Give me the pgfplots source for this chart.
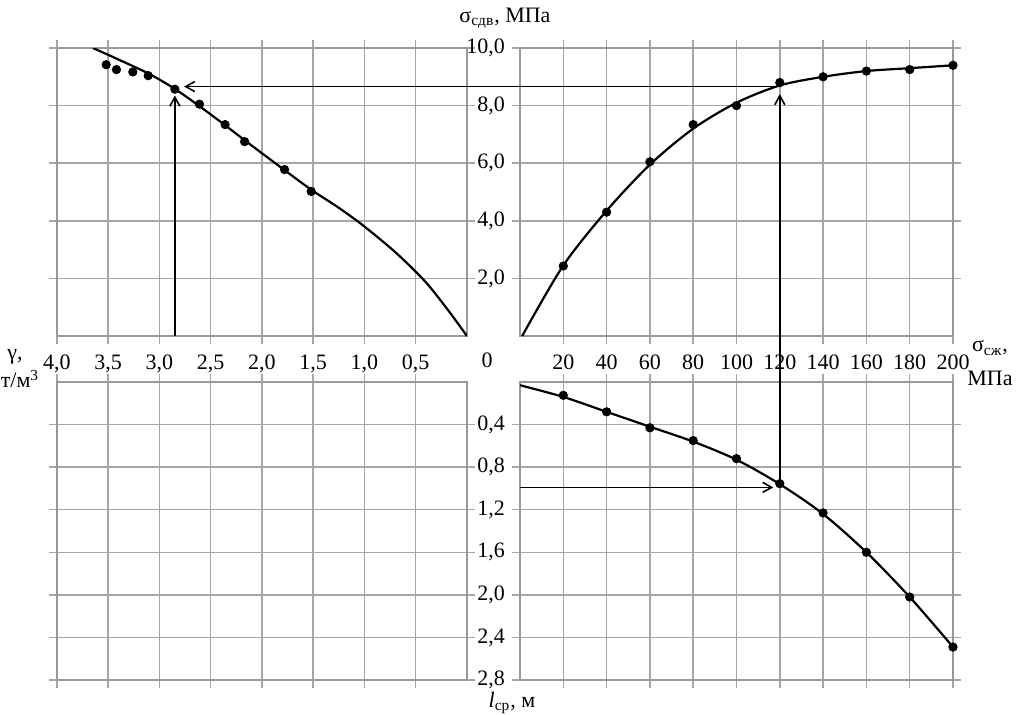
\documentclass[border=0pt]{standalone}
\usepackage{fontspec}
\setmainfont{Liberation Serif}
\usepackage{pgfplots}
\pgfplotsset{compat=1.18}
\usetikzlibrary{arrows.meta}
\pgfplotsset{
  base/.style={
    scale only axis, anchor=south west,
    axis line style={gray!80, line width=0.75pt},
    grid=major, grid style={gray!70, line width=0.75pt},
    tick align=outside, tick pos=both, major tick length=4pt,
    tick style={gray!70, line width=0.75pt},
    ticklabel style={font=\fontsize{11}{13}\selectfont},
    xticklabel shift=2pt,
    /pgf/number format/assume math mode=true,
  },
  numfmt/.style={/pgf/number format/.cd, use comma, fixed, fixed zerofill, precision=1},
  curve/.style={black, line width=1.1pt, smooth, no marks},
  pts/.style={only marks, mark=*, mark size=2.1pt, black},
}
\tikzset{arr/.style={black, line width=0.8pt, -{Straight Barb[length=4.5pt,width=5pt]}}}
\begin{document}
\begin{tikzpicture}
\useasboundingbox (0,0) rectangle (514pt,-357pt);
% top left: gamma vs sigma_sdv
\begin{axis}[base, at={(28.5pt,-168pt)}, width=205pt, height=144pt,
  xmin=0, xmax=4, x dir=reverse, ymin=0, ymax=10,
  xtick={0.5,1,1.5,2,2.5,3,3.5,4}, ytick={2,4,6,8,10}, yticklabels={},
  xticklabel style={numfmt}]
\addplot[curve] coordinates {(0,0) (0.2,0.97) (0.41,1.9) (0.69,2.88) (1.0,3.8) (1.25,4.45) (1.52,5.08) (1.78,5.76) (2.17,6.8) (2.36,7.32) (2.61,7.98) (2.85,8.58) (3.1,9.1) (3.4,9.6) (3.65,10.0)};
\addplot[pts] coordinates {(3.52,9.42) (3.42,9.25) (3.26,9.17) (3.11,9.04) (2.85,8.57) (2.61,8.05) (2.36,7.34) (2.17,6.75) (1.78,5.78) (1.52,5.02)};
\draw[arr] (axis cs:2.85,0) -- (axis cs:2.85,8.35);
\coordinate (TLend) at (axis cs:2.76,8.66);
\end{axis}
% top right: sigma_szh vs sigma_sdv
\begin{axis}[base, at={(260pt,-168pt)}, width=216.5pt, height=144pt,
  xmin=0, xmax=200, ymin=0, ymax=10,
  xtick={20,40,...,200}, ytick={2,4,6,8,10},
  yticklabel style={numfmt}]
\addplot[curve] coordinates {(1,0) (20,2.45) (40,4.35) (60,5.95) (80,7.2) (100,8.1) (120,8.7) (140,9.0) (160,9.2) (180,9.3) (200,9.4)};
\addplot[pts] coordinates {(20,2.43) (40,4.3) (60,6.05) (80,7.34) (100,8.0) (120,8.8) (140,9.0) (160,9.2) (180,9.25) (200,9.4)};
\coordinate (TRtip) at (axis cs:120,8.4);
\coordinate (TRh) at (axis cs:120,8.66);
\end{axis}
% bottom left: empty grid
\begin{axis}[base, at={(28.5pt,-340pt)}, width=205pt, height=149pt,
  xmin=0, xmax=4, x dir=reverse, ymin=0, ymax=2.8, y dir=reverse,
  xtick={0.5,1,1.5,2,2.5,3,3.5,4}, ytick={0.4,0.8,1.2,1.6,2.0,2.4,2.8},
  xticklabel=\empty, yticklabel=\empty]
\addplot[draw=none] coordinates {(0.5,0.5) (3.5,2.5)};
\end{axis}
% bottom right: sigma_szh vs l_sr
\begin{axis}[base, at={(260pt,-340pt)}, width=216.5pt, height=149pt,
  xmin=0, xmax=200, ymin=0, ymax=2.8, y dir=reverse,
  xtick={20,40,...,200}, ytick={0.4,0.8,1.2,1.6,2.0,2.4,2.8},
  xticklabels={}, yticklabel style={numfmt}]
\addplot[curve] coordinates {(0,0.03) (20,0.14) (40,0.28) (60,0.42) (80,0.56) (100,0.73) (120,0.96) (140,1.24) (160,1.6) (180,2.02) (200,2.49)};
\addplot[pts] coordinates {(20,0.125) (40,0.28) (60,0.43) (80,0.55) (100,0.72) (120,0.955) (140,1.23) (160,1.6) (180,2.02) (200,2.49)};
\draw[arr] (axis cs:0,0.99) -- (axis cs:117,0.99);
\coordinate (BRpt) at (axis cs:120,0.955);
\end{axis}
\draw[arr] (BRpt) -- (TRtip);
\draw[arr] (TRh) -- (TLend);
\begin{scope}[every node/.style={font=\fontsize{11}{13}\selectfont, inner sep=0pt}]
\node at (252.5pt,-9pt) {σ\textsubscript{сдв}, МПа};
\node at (243.5pt,-180pt) {0};
\node at (7.5pt,-178.5pt) {γ,};
\node at (10pt,-189.5pt) {т/м\textsuperscript{3}};
\node at (495pt,-174pt) {σ\textsubscript{сж},};
\node at (495pt,-189pt) {МПа};
\node at (256pt,-351.5pt) {\textit{l}\textsubscript{ср}, м};
\end{scope}
\end{tikzpicture}
\end{document}
